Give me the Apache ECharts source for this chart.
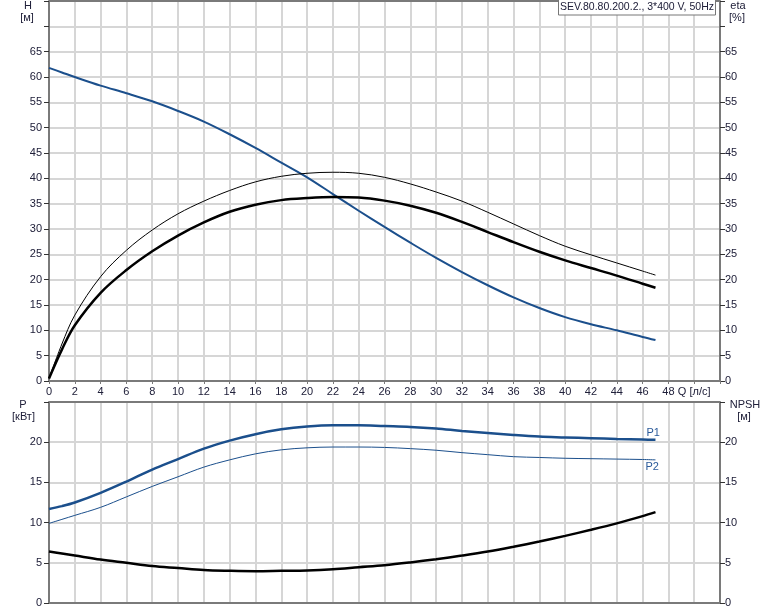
<!DOCTYPE html>
<html><head><meta charset="utf-8">
<script src="https://cdn.jsdelivr.net/npm/echarts@6/dist/echarts.min.js"></script>
<style>html,body{margin:0;padding:0;background:#fff}#c{width:774px;height:611px}</style>
</head><body><div id="c"></div>
<script>
const Q      = [0,1,2,4,6,8,10,12,14,16,18,20,22,24,26,28,30,32,34,36,38,40,42,44,46,47];
const H      = [61.8,60.9,60.0,58.3,56.8,55.2,53.3,51.2,48.7,46.0,43.1,40.2,36.9,33.6,30.4,27.3,24.3,21.5,18.9,16.5,14.4,12.6,11.2,10.0,8.7,8.1];
const etaTotal = [0.5,7.3,13.0,20.6,25.8,29.8,33.0,35.5,37.6,39.3,40.4,41.0,41.2,41.0,40.2,38.9,37.3,35.5,33.3,31.0,28.7,26.6,24.9,23.3,21.7,20.9];
const etaPump  = [0.5,6.2,11.0,17.4,21.9,25.6,28.7,31.3,33.4,34.8,35.7,36.1,36.3,36.2,35.6,34.6,33.2,31.4,29.4,27.4,25.5,23.8,22.3,20.8,19.2,18.4];
const P1     = [11.7,12.05,12.5,13.7,15.1,16.6,17.9,19.2,20.2,21.0,21.6,21.95,22.1,22.1,22.0,21.9,21.7,21.4,21.15,20.9,20.7,20.6,20.5,20.4,20.35,20.3];
const P2     = [9.9,10.4,10.9,11.9,13.2,14.5,15.7,16.9,17.8,18.55,19.05,19.3,19.4,19.4,19.35,19.2,19.0,18.7,18.45,18.2,18.1,18.0,17.95,17.9,17.85,17.8];
const NPSH   = [6.4,6.15,5.9,5.4,5.0,4.6,4.35,4.1,4.0,3.95,4.0,4.05,4.2,4.45,4.7,5.05,5.45,5.9,6.4,7.0,7.65,8.35,9.1,9.9,10.8,11.3];
const xTicks = [0,2,4,6,8,10,12,14,16,18,20,22,24,26,28,30,32,34,36,38,40,42,44,46,48];
const xUnitLabel = 'Q [л/с]';
const title = 'SEV.80.80.200.2., 3*400 V, 50Hz';

const pair = a => a.map((v,i)=>[Q[i],v]);
const txt = '#20203a';
const font = 'Liberation Sans, Arial, sans-serif';
const blue = '#1b4f8c';
const axisLineStyle = {color:'#7a7a7a', width:2};
const gridLine = {show:true, lineStyle:{color:'#d6d6d6', width:2}};

function xAxis(grid, showLabels){
  return {type:'value', gridIndex:grid, min:0, max:52, interval:2,
    axisLine:{show:true, onZero:false, lineStyle:axisLineStyle},
    axisTick:{show:showLabels, length:3, inside:false, lineStyle:{color:'#7a7a7a'}},
    axisLabel:{show:showLabels, margin:5, fontSize:11, fontFamily:font, color:txt,
      formatter:v=> xTicks.indexOf(v)>=0 ? String(v) : (v===50 ? xUnitLabel : '')},
    splitLine:gridLine};
}
function yAxis(grid, pos, max, labMax, showSplit){
  return {type:'value', gridIndex:grid, position:pos, min:0, max:max, interval:5,
    axisLine:{show:true, onZero:false, lineStyle:axisLineStyle},
    axisTick:{show:true, length:5, lineStyle:{color:'#333'}},
    axisLabel:{margin:pos==='left'?7:5, fontSize:11, fontFamily:font, color:txt,
      formatter:v=> v<=labMax ? String(v) : ''},
    splitLine: showSplit ? gridLine : {show:false}};
}
const sm = 0.35;
const chart = echarts.init(document.getElementById('c'));
chart.setOption({
  animation:false,
  backgroundColor:'#fff',
  grid:[{left:49, top:1, width:671, height:380},
        {left:49, top:402, width:671, height:201}],
  xAxis:[xAxis(0,true), xAxis(1,false)],
  yAxis:[yAxis(0,'left',75,65,true), yAxis(0,'right',75,65,false),
         yAxis(1,'left',25,20,true), yAxis(1,'right',25,20,false)],
  series:[
    {type:'line', xAxisIndex:0, yAxisIndex:0, data:pair(H), smooth:sm, showSymbol:false, lineStyle:{color:blue, width:2}},
    {type:'line', xAxisIndex:0, yAxisIndex:1, data:pair(etaTotal), smooth:sm, showSymbol:false, lineStyle:{color:'#000', width:1}},
    {type:'line', xAxisIndex:0, yAxisIndex:1, data:pair(etaPump), smooth:sm, showSymbol:false, lineStyle:{color:'#000', width:2.5}},
    {type:'line', xAxisIndex:1, yAxisIndex:2, data:pair(P1), smooth:sm, showSymbol:false, lineStyle:{color:blue, width:2.5},
      endLabel:{show:true, formatter:'P1', offset:[-17,-7], color:'#2a5a9a', fontSize:11, fontFamily:font}},
    {type:'line', xAxisIndex:1, yAxisIndex:2, data:pair(P2), smooth:sm, showSymbol:false, lineStyle:{color:blue, width:1},
      endLabel:{show:true, formatter:'P2', offset:[-18,7], color:'#2a5a9a', fontSize:11, fontFamily:font}},
    {type:'line', xAxisIndex:1, yAxisIndex:3, data:pair(NPSH), smooth:sm, showSymbol:false, lineStyle:{color:'#000', width:2.5}}
  ],
  graphic:[
    {type:'line', z:50, shape:{x1:49,y1:1,x2:720,y2:1}, style:{stroke:'#7a7a7a', lineWidth:2}},
    {type:'line', z:50, shape:{x1:49,y1:402,x2:720,y2:402}, style:{stroke:'#7a7a7a', lineWidth:2}},
    {type:'rect', z:100, shape:{x:558.5,y:-1,width:157,height:16}, style:{fill:'#fff', stroke:'#777', lineWidth:1}},
    {type:'text', z:101, x:637, y:7.5, style:{text:title, fill:txt, font:'10.5px '+font, textAlign:'center', textVerticalAlign:'middle'}},
    {type:'text', x:28, y:6, style:{text:'H', fill:txt, font:'11px '+font, textAlign:'center', textVerticalAlign:'middle'}},
    {type:'text', x:27, y:18, style:{text:'[м]', fill:txt, font:'11px '+font, textAlign:'center', textVerticalAlign:'middle'}},
    {type:'text', x:738, y:6, style:{text:'eta', fill:txt, font:'11px '+font, textAlign:'center', textVerticalAlign:'middle'}},
    {type:'text', x:737, y:18, style:{text:'[%]', fill:txt, font:'11px '+font, textAlign:'center', textVerticalAlign:'middle'}},
    {type:'text', x:23, y:405, style:{text:'P', fill:txt, font:'11px '+font, textAlign:'center', textVerticalAlign:'middle'}},
    {type:'text', x:23.5, y:417, style:{text:'[кВт]', fill:txt, font:'11px '+font, textAlign:'center', textVerticalAlign:'middle'}},
    {type:'text', x:745, y:405, style:{text:'NPSH', fill:txt, font:'11px '+font, textAlign:'center', textVerticalAlign:'middle'}},
    {type:'text', x:744, y:417, style:{text:'[м]', fill:txt, font:'11px '+font, textAlign:'center', textVerticalAlign:'middle'}}
  ]
});
</script></body></html>
